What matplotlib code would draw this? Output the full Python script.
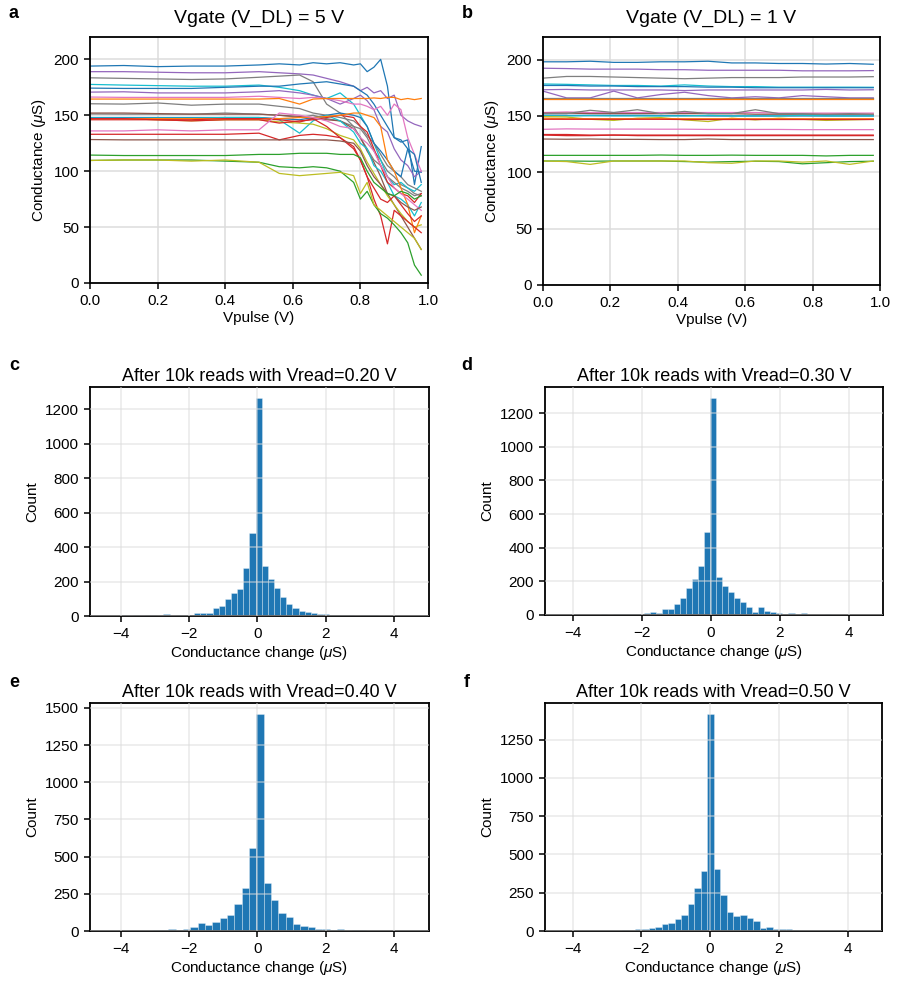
import numpy as np
import matplotlib
matplotlib.use("Agg")
import matplotlib.pyplot as plt

plt.rcParams['font.family'] = ['Liberation Sans', 'DejaVu Sans']
plt.rcParams['mathtext.fontset'] = 'custom'
plt.rcParams['mathtext.it'] = 'Liberation Sans:italic'
plt.rcParams['mathtext.rm'] = 'Liberation Sans'

# ---------------- Panel a: Vgate = 5 V (conductance vs Vpulse) ----------------
x_a = [0, 0.1, 0.2, 0.3, 0.4, 0.5, 0.56, 0.62, 0.66, 0.70, 0.74, 0.78, 0.80, 0.82,
       0.84, 0.86, 0.88, 0.90, 0.92, 0.94, 0.96, 0.98]
a01 = [194, 194.5, 193.5, 194, 194, 195, 196, 195, 197, 196, 197, 195, 196, 189, 193, 200, 176, 130, 126, 128, 88, 122]
a02 = [189, 189, 188.5, 188, 188, 189, 188, 187, 186, 183, 180, 176, 172, 175, 170, 172, 165, 168, 150, 145, 142, 140]
a03 = [183.5, 183, 182.5, 182, 182.5, 184, 185, 186, 180, 160, 152, 140, 138, 130, 118, 110, 100, 95, 88, 85, 80, 78]
a04 = [177.6, 177, 176.5, 176, 176, 177, 175, 172, 168, 165, 170, 160, 150, 140, 125, 110, 95, 88, 90, 85, 82, 88]
a05 = [174.3, 174, 174, 174, 175, 176, 176, 178, 179, 180, 178, 176, 172, 168, 160, 150, 140, 130, 128, 120, 100, 99]
a06 = [170.7, 171, 170, 170, 170, 171, 172, 170, 168, 165, 160, 165, 168, 163, 155, 140, 135, 120, 110, 105, 95, 100]
a07 = [166.3, 166, 166, 166, 166, 167, 166, 165, 166, 165, 163, 160, 160, 158, 155, 158, 150, 160, 155, 130, 115, 100]
a08 = [164.5, 164.5, 164.5, 164.5, 164.5, 164.5, 165, 160, 164.5, 165, 165, 165, 165, 165, 165.5, 165, 166, 166, 164, 165, 164, 165]
a09 = [160.3, 160, 161, 159, 160, 160, 158, 156, 152, 150, 148, 145, 140, 132, 125, 115, 105, 100, 95, 88, 85, 82]
a10 = [151.2, 151, 151, 151, 152, 151, 150, 148, 150, 147, 145, 140, 130, 120, 110, 105, 95, 90, 85, 82, 78, 80]
a11 = [152, 152, 151.5, 151, 151, 151, 150, 149, 147, 146, 145, 138, 130, 118, 108, 95, 80, 70, 60, 50, 40, 30]
a12 = [148, 148, 148, 148, 148, 148, 147, 146, 148, 150, 152, 150, 148, 140, 125, 118, 110, 100, 95, 120, 115, 90]
a13 = [147.6, 147.5, 147.5, 147.5, 148, 148, 146, 134, 145, 150, 145, 135, 125, 120, 105, 100, 90, 78, 75, 70, 60, 72]
a14 = [147, 147, 146, 145, 146, 146, 144, 143, 142, 138, 132, 128, 120, 108, 98, 88, 78, 70, 62, 55, 50, 52]
a15 = [146, 146, 146, 145, 146, 146, 143, 145, 146, 148, 150, 148, 140, 135, 120, 105, 90, 85, 80, 78, 72, 80]
a16 = [147, 147, 147, 147, 147, 147, 147, 148, 148, 149, 150, 152, 152, 150, 148, 140, 110, 100, 85, 70, 45, 60]
a17 = [147, 147, 146, 146, 147, 147, 146, 144, 147, 140, 130, 120, 110, 95, 75, 60, 35, 65, 60, 55, 50, 45]
a18 = [136, 136, 137, 136, 137, 137, 152, 150, 148, 145, 140, 138, 130, 125, 118, 105, 95, 85, 80, 75, 70, 65]
a19 = [133, 133, 133, 133, 133, 134, 128, 132, 133, 132, 130, 122, 110, 95, 85, 75, 72, 78, 70, 62, 55, 60]
a20 = [128.3, 128, 128, 128, 128, 128, 128, 128, 128, 128, 127, 125, 118, 105, 95, 88, 80, 78, 72, 68, 65, 68]
a21 = [114.4, 114, 114, 114, 114, 115, 115, 116, 116, 116, 115, 115, 112, 100, 90, 85, 80, 78, 82, 80, 75, 78]
a22 = [109.6, 110, 110, 110, 109, 108, 104, 103, 104, 103, 100, 90, 75, 82, 70, 62, 58, 52, 45, 36, 16, 7]
a23 = [109.6, 110, 110, 109, 110, 108, 98, 96, 97, 98, 99, 96, 80, 90, 70, 65, 60, 55, 50, 45, 40, 30]
curves_a = [a01, a02, a03, a04, a05, a06, a07, a08, a09, a10, a11, a12,
            a13, a14, a15, a16, a17, a18, a19, a20, a21, a22, a23]
colors_a = ['tab:blue', 'tab:purple', 'tab:gray', 'tab:cyan', 'tab:blue', 'tab:purple',
            'tab:pink', 'tab:orange', 'tab:gray', 'tab:gray', 'tab:brown', 'tab:blue',
            'tab:cyan', 'tab:olive', 'tab:red', 'tab:orange', 'tab:red', 'tab:pink',
            'tab:red', 'tab:brown', 'tab:green', 'tab:green', 'tab:olive']

# ---------------- Panel b: Vgate = 1 V ----------------
x_b = [0, 0.07, 0.14, 0.21, 0.28, 0.35, 0.42, 0.49, 0.56, 0.63, 0.70, 0.77, 0.84, 0.91, 0.98]
b01 = [198, 198, 198.5, 197.5, 197.5, 198, 198, 198.5, 197, 197, 196.5, 196.5, 196, 196.5, 195.8]
b02 = [192.3, 192, 191.5, 191.5, 191.5, 191, 191, 190.5, 190.5, 190.5, 190.5, 190, 190, 190, 190.2]
b03 = [183.5, 185, 185, 184.5, 184, 183.5, 183, 183.5, 184, 184, 184, 184.5, 184.5, 184.5, 184.8]
b04 = [178.3, 178, 177.5, 177, 177, 176.5, 177.5, 176.5, 176, 176, 175.5, 175.5, 175.5, 175.5, 175.4]
b05 = [177, 177, 176.5, 176.5, 176, 176, 176, 175.5, 175.5, 175, 175, 175, 175, 175, 175]
b06 = [173.2, 173.5, 173, 173, 173, 173, 172.5, 173, 173, 173, 173, 173, 173.5, 173, 173.2]
b07 = [172, 166, 166, 172, 166, 169, 171, 168, 166, 167, 166, 168, 167, 166, 166]
b08 = [165.5, 165.5, 165.5, 165.5, 165.5, 165.5, 165.5, 165.5, 165.5, 165.5, 165.5, 165.5, 165.5, 165.5, 165.5]
b09 = [165, 165, 165, 165, 165, 165, 165, 165, 165, 165, 165, 165, 165, 165, 165]
b10 = [153, 153.5, 153, 153, 153, 153, 153, 153, 153, 153, 152.5, 152.5, 152.5, 152.5, 152.5]
b11 = [152.4, 152.5, 152, 152, 152, 152, 152, 152, 152, 151.5, 151.5, 151.5, 151.5, 151.5, 151.5]
b12 = [152, 152, 155, 153, 155.5, 152, 154, 152, 152, 155.5, 152, 152, 151, 152, 151]
b13 = [150.6, 150.5, 150.5, 150.5, 150.5, 150.3, 150.3, 150, 150, 150, 150, 150, 150, 150, 150]
b14 = [150.2, 150, 150.2, 150, 150, 150, 150, 150.5, 150, 150, 150, 150.5, 150, 150, 150]
b15 = [149.4, 149, 147, 146, 148, 148.5, 146.5, 145, 148, 146.5, 148, 147, 146, 146.5, 147]
b16 = [148, 147.5, 147.5, 147.5, 147.5, 147.5, 147.5, 147.5, 147.5, 147.5, 147.5, 147.5, 147.5, 147.5, 147.5]
b17 = [147, 147, 147, 147, 147, 147, 146.8, 146.8, 146.8, 146.8, 146.8, 146.8, 146.8, 146.8, 146.8]
b18 = [138.1, 138.5, 138.3, 138.3, 138.3, 138.2, 138.2, 138, 138, 138, 138, 137.8, 137.8, 137.8, 137.8]
b19 = [133.5, 133.5, 133, 133, 133, 133, 133, 133, 133, 133, 133, 133, 133, 133, 133]
b20 = [133, 132.5, 132.5, 133, 132.5, 132.5, 132.5, 132.5, 132.5, 132.5, 132.5, 132.5, 132.5, 132.5, 132.5]
b21 = [129.5, 129.3, 129.5, 129.2, 129.2, 129, 129, 129.5, 129, 129, 129, 129, 129, 129, 129]
b22 = [115, 115, 115, 115, 115, 115.3, 115, 115, 115.2, 115, 115, 115, 114.5, 115, 115]
b23 = [110, 110, 109.8, 110, 110, 110, 109.5, 109, 109.5, 109.8, 109.5, 107.5, 108.5, 109.5, 109.8]
b24 = [110, 109.5, 107, 110, 110, 110, 110, 108.5, 108, 110, 110, 109, 110, 107, 110]
curves_b = [b01, b02, b03, b04, b05, b06, b07, b08, b09, b10, b11, b12,
            b13, b14, b15, b16, b17, b18, b19, b20, b21, b22, b23, b24]
colors_b = ['tab:blue', 'tab:purple', 'tab:gray', 'tab:cyan', 'tab:blue', 'tab:purple',
            'tab:purple', 'tab:gray', 'tab:orange', 'tab:pink', 'tab:brown', 'tab:gray',
            'tab:blue', 'tab:cyan', 'tab:olive', 'tab:orange', 'tab:red', 'tab:pink',
            'tab:red', 'tab:red', 'tab:brown', 'tab:green', 'tab:green', 'tab:olive']

# ---------------- Histograms (c-f) ----------------
edges_c = [-0.05 + 0.18 * k for k in range(-24, 27)]
counts_c = [0, 0, 3, 2, 4, 2, 5, 3, 2, 14, 1, 5, 5, 6, 15, 17, 19, 44, 58, 100, 135, 158, 278, 482,
            1266, 292, 216, 162, 112, 70, 44, 27, 21, 17, 12, 10, 6, 4, 6, 3, 0, 4, 6, 3, 0, 0, 1, 0, 0, 0]

edges_d = [-0.015 + 0.175 * k for k in range(-24, 27)]
counts_d = [0, 0, 0, 2, 0, 2, 3, 2, 6, 3, 3, 4, 6, 10, 18, 14, 38, 34, 65, 103, 158, 214, 289, 491,
            1291, 226, 172, 139, 103, 79, 48, 20, 46, 24, 18, 10, 4, 10, 4, 10, 0, 2, 0, 3, 0, 0, 2, 0, 0, 0]

edges_e = [-0.03 + 0.215 * k for k in range(-20, 23)]
counts_e = [0, 2, 0, 2, 0, 2, 9, 9, 16, 7, 11, 29, 56, 42, 63, 89, 110, 183, 288, 559,
            1460, 320, 206, 119, 94, 45, 31, 25, 16, 16, 9, 16, 2, 7, 7, 0, 2, 0, 0, 0, 0, 0]

edges_f = [-0.08 + 0.19 * k for k in range(-22, 25)]
counts_f = [0, 0, 0, 0, 2, 0, 0, 2, 2, 9, 3, 11, 13, 20, 28, 46, 54, 78, 104, 174, 282, 393,
            1419, 408, 234, 124, 95, 104, 82, 65, 20, 28, 15, 15, 13, 7, 0, 2, 0, 3, 3, 0, 0, 0, 0, 0]

vread_titles = ['After 10k reads with Vread=0.20 V', 'After 10k reads with Vread=0.30 V',
                'After 10k reads with Vread=0.40 V', 'After 10k reads with Vread=0.50 V']

# ---------------- Figure ----------------
W, H = 903, 988
fig = plt.figure(figsize=(W / 100, H / 100), dpi=100)


def rect(x0, y0, x1, y1):
    return [x0 / W, 1 - y1 / H, (x1 - x0) / W, (y1 - y0) / H]


FS = 11
GRID = '#dcdcdc'


def style(ax):
    for s in ax.spines.values():
        s.set_linewidth(1.3)
        s.set_color('black')
    ax.tick_params(direction='out', length=4.5, width=1.1, labelsize=FS, color='black')
    ax.grid(True, color=GRID, linewidth=1.1)


ax_a = fig.add_axes(rect(90, 37, 428, 283))
ax_b = fig.add_axes(rect(543, 37, 880, 285))
for ax, xs, curves, cols, title in [(ax_a, x_a, curves_a, colors_a, 'Vgate (V_DL) = 5 V'),
                                     (ax_b, x_b, curves_b, colors_b, 'Vgate (V_DL) = 1 V')]:
    style(ax)
    ax.set_axisbelow(True)
    for ys, c in zip(curves, cols):
        ax.plot(xs, ys, color=c, lw=0.9)
    ax.set_xlim(0, 1.0)
    ax.set_ylim(0, 220)
    ax.set_xticks([0, 0.2, 0.4, 0.6, 0.8, 1.0])
    ax.set_yticks([0, 50, 100, 150, 200])
    ax.set_xlabel('Vpulse (V)', fontsize=FS, labelpad=2)
    ax.set_ylabel('Conductance ($\\mu$S)', fontsize=FS)
    ax.set_title(title, fontsize=14, pad=10)

hist_specs = [
    (rect(90, 387, 429, 616), edges_c, counts_c, (-4.9, 5.03), [0, 200, 400, 600, 800, 1000, 1200]),
    (rect(545, 387, 883, 615), edges_d, counts_d, (-4.8, 5.0), [0, 200, 400, 600, 800, 1000, 1200]),
    (rect(90, 703, 429, 931), edges_e, counts_e, (-4.9, 5.03), [0, 250, 500, 750, 1000, 1250, 1500]),
    (rect(545, 703, 882, 931), edges_f, counts_f, (-4.8, 5.0), [0, 250, 500, 750, 1000, 1250]),
]
for (r, edges, counts, xl, yt), title in zip(hist_specs, vread_titles):
    ax = fig.add_axes(r)
    style(ax)
    centers = [(edges[i] + edges[i + 1]) / 2 for i in range(len(counts))]
    ax.hist(centers, bins=edges, weights=counts, color='#1f77b4',
            edgecolor=(1, 1, 1, 0.35), linewidth=0.6, zorder=1)
    ax.set_axisbelow(False)
    for gl in ax.get_xgridlines() + ax.get_ygridlines():
        gl.set_alpha(0.6)
        gl.set_zorder(2)
    ax.set_xlim(*xl)
    ax.set_xticks([-4, -2, 0, 2, 4])
    ax.set_yticks(yt)
    ax.set_xlabel('Conductance change ($\\mu$S)', fontsize=FS, labelpad=2)
    ax.set_ylabel('Count', fontsize=FS)
    ax.set_title(title, fontsize=13, pad=4.5)

for lab, (px, py) in zip('abcdef', [(14, 14), (467, 14), (14, 365), (467, 365), (14, 682), (467, 682)]):
    fig.text(px / W, 1 - py / H, lab, fontsize=13, fontweight='bold', ha='center', va='center')

fig.savefig('out.png', dpi=100)
